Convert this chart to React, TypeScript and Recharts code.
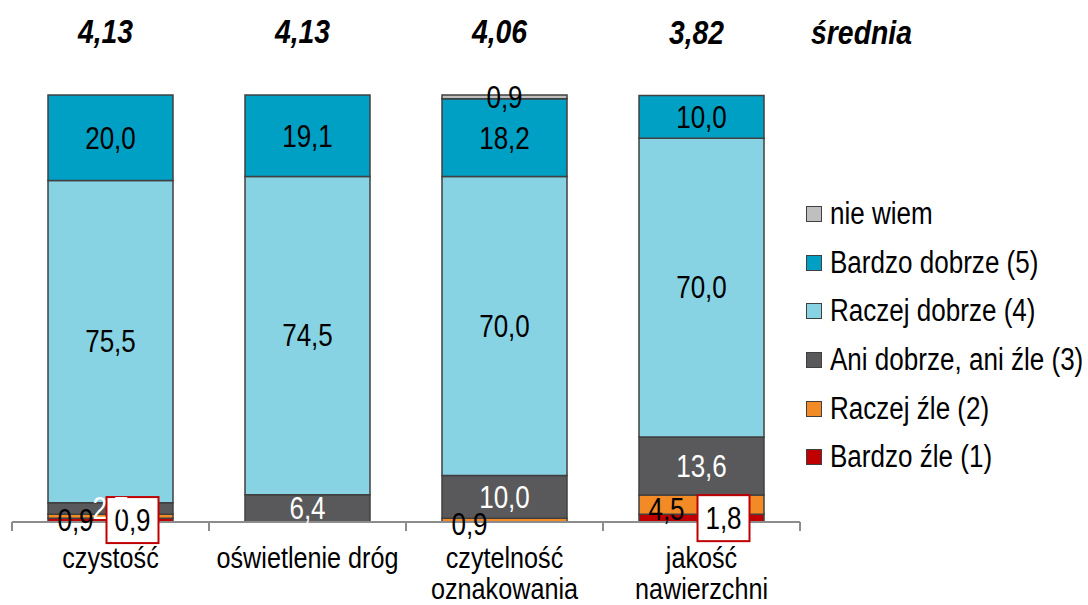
import React from "react";
import { Bar, BarChart, LabelList, XAxis, YAxis } from "recharts";

const categories = ["czystość", "oświetlenie dróg", "czytelność\noznakowania", "jakość\nnawierzchni"];
const averages = [4.13, 4.13, 4.06, 3.82];

const bardzoZle = [0.9, 0, 0, 1.8];
const raczejZle = [0.9, 0, 0.9, 4.5];
const aniDobrzeAniZle = [2.7, 6.4, 10.0, 13.6];
const raczejDobrze = [75.5, 74.5, 70.0, 70.0];
const bardzoDobrze = [20.0, 19.1, 18.2, 10.0];
const nieWiem = [0, 0, 0.9, 0];

const FONT = '"Liberation Sans", Arial, sans-serif';
const SX = 0.84; // narrow look of the original font
const HALF_BAND = 98.5;

interface Serie {
  key: string;
  name: string;
  values: number[];
  color: string;
  text: string;
  boxed?: boolean;
  dx?: number;
  dy?: number;
}

// stacking order: bottom first
const series: Serie[] = [
  { key: "bz", name: "Bardzo źle (1)", values: bardzoZle, color: "#c00000", text: "#000", boxed: true, dx: 22, dy: 0 },
  { key: "rz", name: "Raczej źle (2)", values: raczejZle, color: "#f28a25", text: "#000", dx: -35, dy: 4 },
  { key: "ani", name: "Ani dobrze, ani źle (3)", values: aniDobrzeAniZle, color: "#59595b", text: "#fff" },
  { key: "rd", name: "Raczej dobrze (4)", values: raczejDobrze, color: "#87d3e3", text: "#000" },
  { key: "bd", name: "Bardzo dobrze (5)", values: bardzoDobrze, color: "#009fc4", text: "#000" },
  { key: "nw", name: "nie wiem", values: nieWiem, color: "#bfbfbf", text: "#000" },
];

const data = categories.map((name, i) => {
  const row: { [k: string]: string | number } = { name, avg: averages[i] };
  series.forEach((s) => (row[s.key] = s.values[i]));
  return row;
});

const fmt = (v: number, d = 1) => v.toFixed(d).replace(".", ",");

const NText = ({ x, y, children, size = 31, fill = "#000", bold = false, sx = SX }: any) => (
  <text
    transform={`translate(${x},${y}) scale(${sx},1)`}
    textAnchor="middle"
    dominantBaseline="central"
    fontFamily={FONT}
    fontSize={size}
    fontWeight={bold ? "bold" : "normal"}
    fontStyle={bold ? "italic" : "normal"}
    fill={fill}
  >
    {children}
  </text>
);

const makeLabel = (s: Serie) => (props: any) => {
  const { x, y, width, height, value } = props;
  if (!value) return null;
  const cx = Number(x) + Number(width) / 2 + (s.dx || 0);
  const cy = Number(y) + Number(height) / 2 + (s.dy || 0);
  if (s.boxed) {
    return (
      <g>
        <rect x={cx - 26} y={cy - 23} width={52} height={46} fill="#fff" stroke="#c00000" strokeWidth={2} />
        <NText x={cx} y={cy}>{fmt(value)}</NText>
      </g>
    );
  }
  return (
    <NText x={cx} y={cy} fill={s.text}>
      {fmt(value)}
    </NText>
  );
};

// averages drawn above each stack (hooked on "Bardzo dobrze", which is never empty)
const AvgLabel = (props: any) => {
  const { x, y, width, height, index } = props;
  const pxPer = Number(height) / bardzoDobrze[index];
  const top = Number(y) - nieWiem[index] * pxPer;
  const cx = Number(x) + Number(width) / 2 - 5;
  const ty = top - 63;
  return (
    <g>
      <NText x={cx} y={ty} size={33} bold sx={0.86}>{fmt(averages[index], 2)}</NText>
      {index === categories.length - 1 && (
        <NText x={cx + 165} y={ty} size={33} bold sx={0.86}>średnia</NText>
      )}
    </g>
  );
};

const BottomTick = (props: any) => {
  const { x, y, payload, index } = props;
  const lines = String(payload.value).split("\n");
  return (
    <g>
      <line x1={x - HALF_BAND} x2={x - HALF_BAND} y1={y} y2={y + 9} stroke="#8c8c8c" strokeWidth={2} />
      {index === categories.length - 1 && (
        <line x1={x + HALF_BAND} x2={x + HALF_BAND} y1={y} y2={y + 9} stroke="#8c8c8c" strokeWidth={2} />
      )}
      {lines.map((l, i) => (
        <NText key={i} x={x} y={y + 36 + i * 31} size={30}>
          {l}
        </NText>
      ))}
    </g>
  );
};

const Legenda = () => (
  <div style={{ position: "absolute", left: 806, top: 190, fontFamily: FONT, fontSize: 31, color: "#000" }}>
    {[...series].reverse().map((s) => (
      <div key={s.key} style={{ display: "flex", alignItems: "center", height: 48.6, whiteSpace: "nowrap" }}>
        <span style={{ width: 14, height: 14, background: s.color, border: "1.5px solid #404040", marginRight: 8, flex: "none" }} />
        <span style={{ display: "inline-block", transform: `scaleX(${SX})`, transformOrigin: "left center" }}>{s.name}</span>
      </div>
    ))}
  </div>
);

export default function App() {
  return (
    <div style={{ position: "absolute", left: 0, top: 0, width: 1088, height: 605, background: "#fff", overflow: "hidden" }}>
      <BarChart width={1088} height={605} data={data} margin={{ top: 95, right: 288, bottom: 8, left: 12 }} barSize={125}>
        <XAxis
          dataKey="name"
          height={75}
          tickSize={0}
          tickMargin={0}
          tickLine={false}
          axisLine={{ stroke: "#8c8c8c", strokeWidth: 2 }}
          tick={<BottomTick />}
          interval={0}
        />
        <YAxis hide domain={[0, 100]} />
        {series.map((s) => (
          <Bar key={s.key} dataKey={s.key} name={s.name} stackId="a" fill={s.color} stroke="#404040" strokeWidth={1.5} isAnimationActive={false}>
            <LabelList dataKey={s.key} content={makeLabel(s)} />
            {s.key === "bd" && <LabelList dataKey="avg" content={<AvgLabel />} />}
          </Bar>
        ))}
      </BarChart>
      <Legenda />
    </div>
  );
}
